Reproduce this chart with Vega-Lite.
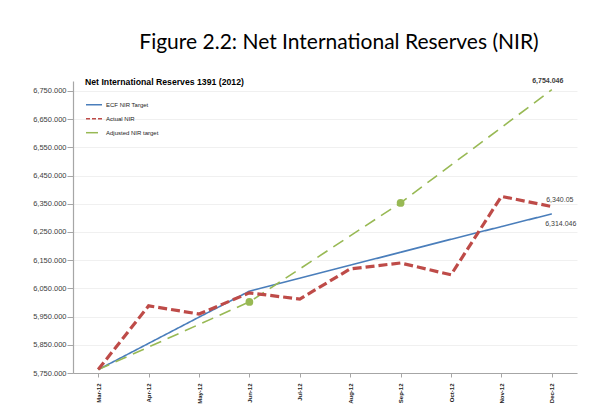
{
  "$schema": "https://vega.github.io/schema/vega-lite/v6.json",
  "width": 504,
  "height": 292,
  "autosize": {"type": "none"},
  "padding": {"left": 73, "top": 81, "right": 20, "bottom": 42},
  "background": "white",
  "title": {
    "text": "Figure 2.2: Net International Reserves (NIR)",
    "font": "Lato",
    "fontSize": 21,
    "fontWeight": "normal",
    "color": "#000000",
    "anchor": "middle",
    "frame": "group",
    "dx": 14,
    "offset": 24
  },
  "data": {
    "values": [
      {"month": "Mar-12", "series": "ECF NIR Target", "value": 5762},
      {"month": "Apr-12", "series": "ECF NIR Target", "value": 5855},
      {"month": "May-12", "series": "ECF NIR Target", "value": 5948},
      {"month": "Jun-12", "series": "ECF NIR Target", "value": 6040},
      {"month": "Jul-12", "series": "ECF NIR Target", "value": 6086},
      {"month": "Aug-12", "series": "ECF NIR Target", "value": 6132},
      {"month": "Sep-12", "series": "ECF NIR Target", "value": 6178},
      {"month": "Oct-12", "series": "ECF NIR Target", "value": 6224},
      {"month": "Nov-12", "series": "ECF NIR Target", "value": 6269},
      {"month": "Dec-12", "series": "ECF NIR Target", "value": 6314.046, "label": "6,314.046"},
      {"month": "Mar-12", "series": "Actual NIR", "value": 5762},
      {"month": "Apr-12", "series": "Actual NIR", "value": 5988},
      {"month": "May-12", "series": "Actual NIR", "value": 5959},
      {"month": "Jun-12", "series": "Actual NIR", "value": 6034},
      {"month": "Jul-12", "series": "Actual NIR", "value": 6012},
      {"month": "Aug-12", "series": "Actual NIR", "value": 6119},
      {"month": "Sep-12", "series": "Actual NIR", "value": 6140},
      {"month": "Oct-12", "series": "Actual NIR", "value": 6098},
      {"month": "Nov-12", "series": "Actual NIR", "value": 6376},
      {"month": "Dec-12", "series": "Actual NIR", "value": 6340.05, "label": "6,340.05"},
      {"month": "Mar-12", "series": "Adjusted NIR target", "value": 5762},
      {"month": "Apr-12", "series": "Adjusted NIR target", "value": 5842},
      {"month": "May-12", "series": "Adjusted NIR target", "value": 5922},
      {"month": "Jun-12", "series": "Adjusted NIR target", "value": 6002},
      {"month": "Jul-12", "series": "Adjusted NIR target", "value": 6119},
      {"month": "Aug-12", "series": "Adjusted NIR target", "value": 6236},
      {"month": "Sep-12", "series": "Adjusted NIR target", "value": 6353},
      {"month": "Oct-12", "series": "Adjusted NIR target", "value": 6487},
      {"month": "Nov-12", "series": "Adjusted NIR target", "value": 6620},
      {"month": "Dec-12", "series": "Adjusted NIR target", "value": 6754.046, "label": "6,754.046"}
    ]
  },
  "encoding": {
    "y": {
      "field": "value", "type": "quantitative",
      "scale": {"domain": [5750, 6785], "nice": false, "zero": false},
      "axis": {
        "title": null,
        "values": [5750, 5850, 5950, 6050, 6150, 6250, 6350, 6450, 6550, 6650, 6750],
        "format": ",.3f",
        "labelOverlap": false,
        "labelFont": "Liberation Sans", "labelFontSize": 7.5, "labelColor": "#404040",
        "labelPadding": 1, "tickSize": 6, "tickColor": "#a6a6a6",
        "domainColor": "#a6a6a6", "domainWidth": 1.2,
        "grid": true, "gridColor": "#f0f0f0", "gridWidth": 1
      }
    }
  },
  "resolve": {"axis": {"x": "independent"}},
  "layer": [
    {
      "transform": [{"filter": "datum.series !== 'Actual NIR'"}],
      "mark": {"type": "line", "strokeWidth": 1.6},
      "encoding": {
        "x": {
          "field": "month", "type": "ordinal",
          "sort": ["Mar-12", "Apr-12", "May-12", "Jun-12", "Jul-12", "Aug-12", "Sep-12", "Oct-12", "Nov-12", "Dec-12"],
          "scale": {"paddingInner": 0, "paddingOuter": 0},
          "axis": {
            "orient": "bottom", "title": null, "labels": false, "grid": false,
            "bandPosition": 0, "tickSize": 4, "tickColor": "#a6a6a6",
            "domainColor": "#a6a6a6", "domainWidth": 1.2
          }
        },
        "color": {
          "field": "series", "type": "nominal",
          "scale": {
            "domain": ["ECF NIR Target", "Actual NIR", "Adjusted NIR target"],
            "range": ["#4a7ebb", "#be4b48", "#98b954"]
          },
          "legend": {
            "title": "Net International Reserves  1391 (2012)",
            "orient": "none", "legendX": 12, "legendY": -3
          }
        },
        "strokeDash": {
          "field": "series", "type": "nominal",
          "scale": {
            "domain": ["ECF NIR Target", "Actual NIR", "Adjusted NIR target"],
            "range": [[1, 0], [4, 2], [12, 7]]
          },
          "legend": {
            "title": "Net International Reserves  1391 (2012)",
            "orient": "none", "legendX": 12, "legendY": -3
          }
        }
      }
    },
    {
      "transform": [{"filter": "datum.series === 'Actual NIR'"}],
      "mark": {"type": "line", "strokeWidth": 3.2, "strokeDash": [9, 4]},
      "encoding": {
        "x": {
          "field": "month", "type": "ordinal",
          "sort": ["Mar-12", "Apr-12", "May-12", "Jun-12", "Jul-12", "Aug-12", "Sep-12", "Oct-12", "Nov-12", "Dec-12"],
          "axis": {
            "orient": "bottom", "title": null, "ticks": false, "domain": false, "grid": false,
            "labelAngle": -90, "labelFont": "Liberation Sans", "labelFontSize": 6,
            "labelFontWeight": "bold", "labelColor": "#222222", "labelPadding": 10
          }
        },
        "color": {"value": "#be4b48"}
      }
    },
    {
      "transform": [{"filter": "datum.series === 'Adjusted NIR target' && (datum.month === 'Jun-12' || datum.month === 'Sep-12')"}],
      "mark": {"type": "point", "filled": true, "size": 60, "opacity": 1, "color": "#98b954"},
      "encoding": {
        "x": {"field": "month", "type": "ordinal", "sort": ["Mar-12", "Apr-12", "May-12", "Jun-12", "Jul-12", "Aug-12", "Sep-12", "Oct-12", "Nov-12", "Dec-12"], "axis": null}
      }
    },
    {
      "transform": [{"filter": "datum.series === 'Adjusted NIR target' && datum.label"}],
      "mark": {"type": "text", "font": "Liberation Sans", "fontSize": 7, "fontWeight": "bold", "color": "#404040", "dx": -4, "dy": -9},
      "encoding": {
        "x": {"field": "month", "type": "ordinal", "sort": ["Mar-12", "Apr-12", "May-12", "Jun-12", "Jul-12", "Aug-12", "Sep-12", "Oct-12", "Nov-12", "Dec-12"], "axis": null},
        "text": {"field": "label"}
      }
    },
    {
      "transform": [{"filter": "datum.series === 'Actual NIR' && datum.label"}],
      "mark": {"type": "text", "font": "Liberation Sans", "fontSize": 7, "color": "#404040", "dx": 8, "dy": -7},
      "encoding": {
        "x": {"field": "month", "type": "ordinal", "sort": ["Mar-12", "Apr-12", "May-12", "Jun-12", "Jul-12", "Aug-12", "Sep-12", "Oct-12", "Nov-12", "Dec-12"], "axis": null},
        "text": {"field": "label"}
      }
    },
    {
      "transform": [{"filter": "datum.series === 'ECF NIR Target' && datum.label"}],
      "mark": {"type": "text", "font": "Liberation Sans", "fontSize": 7, "color": "#404040", "dx": 9, "dy": 10},
      "encoding": {
        "x": {"field": "month", "type": "ordinal", "sort": ["Mar-12", "Apr-12", "May-12", "Jun-12", "Jul-12", "Aug-12", "Sep-12", "Oct-12", "Nov-12", "Dec-12"], "axis": null},
        "text": {"field": "label"}
      }
    }
  ],
  "config": {
    "view": {"stroke": null},
    "legend": {
      "symbolType": "stroke",
      "symbolSize": 256,
      "symbolStrokeWidth": 1.5,
      "rowPadding": 2,
      "padding": 0,
      "titleFont": "Liberation Sans",
      "titleFontSize": 8.7,
      "titleFontWeight": "bold",
      "titleColor": "#000000",
      "titlePadding": 9,
      "titleLimit": 400,
      "labelFont": "Liberation Sans",
      "labelFontSize": 6,
      "labelColor": "#222222",
      "labelOffset": 3
    }
  }
}
